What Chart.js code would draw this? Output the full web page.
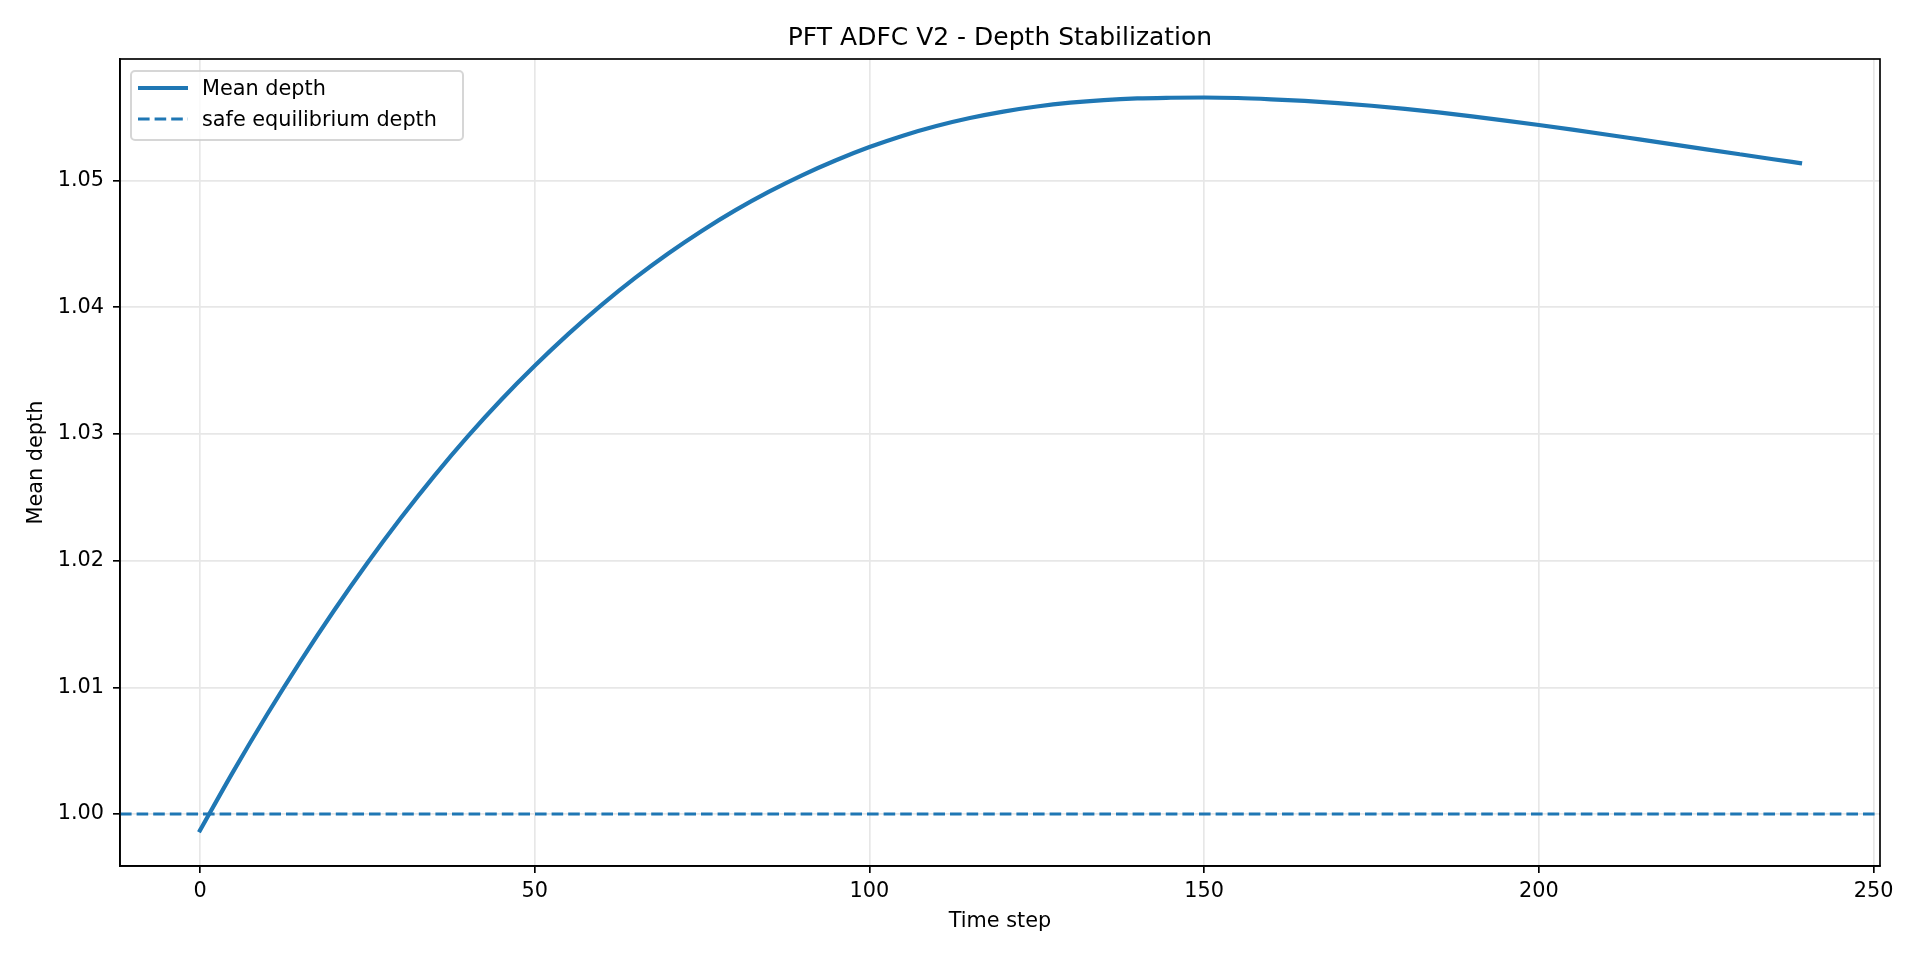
<!DOCTYPE html>
<html>
<head>
<meta charset="utf-8">
<title>PFT ADFC V2 - Depth Stabilization</title>
<script src="https://cdn.jsdelivr.net/npm/chart.js@4.4.1/dist/chart.umd.min.js"></script>
<style>
  body { margin: 0; background: #ffffff; }
  canvas { display: block; }
</style>
</head>
<body>
<canvas id="depth-chart" width="1920" height="960"></canvas>
<script>
// values
var timeSteps = [0, 5, 10, 15, 20, 25, 30, 35, 40, 45, 50, 55, 60, 65, 70, 75, 80, 85, 90, 95,
                 100, 105, 110, 115, 120, 125, 130, 135, 140, 145, 150, 155, 160, 165, 170, 175,
                 180, 185, 190, 195, 200, 205, 210, 215, 220, 225, 230, 235, 239];
var meanDepth = [0.99871, 1.00339, 1.00784, 1.01206, 1.01605, 1.01982, 1.02337, 1.02670, 1.02981, 1.03270,
                 1.03538, 1.03788, 1.04019, 1.04232, 1.04427, 1.04605, 1.04767, 1.04913, 1.05044, 1.05161,
                 1.05265, 1.05355, 1.05431, 1.05494, 1.05545, 1.05585, 1.05615, 1.05636, 1.05649, 1.05654,
                 1.05656, 1.05652, 1.05642, 1.05629, 1.05612, 1.05591, 1.05566, 1.05538, 1.05507, 1.05474,
                 1.05439, 1.05402, 1.05364, 1.05325, 1.05286, 1.05247, 1.05208, 1.05169, 1.05138];
var safeDepth = 1.0;

var xTicks = [0, 50, 100, 150, 200, 250];
var yTicks = [1.00, 1.01, 1.02, 1.03, 1.04, 1.05];
var xLimits = [-11.95, 250.95];
var yLimits = [0.9959, 1.0596];

var titleText = 'PFT ADFC V2 - Depth Stabilization';
var xTitle = 'Time step';
var yTitle = 'Mean depth';
var seriesNames = ['Mean depth', 'safe equilibrium depth'];

var blue = '#1f77b4';
var fontFamily = '"DejaVu Sans", Verdana, sans-serif';

var frameAndLegend = {
  id: 'frameAndLegend',
  afterDraw: function(chart) {
    var ctx = chart.ctx;
    var a = chart.chartArea;
    ctx.save();

    // full box round the axes
    ctx.strokeStyle = '#000000';
    ctx.lineWidth = 1.67;
    ctx.strokeRect(a.left, a.top, a.right - a.left, a.bottom - a.top);

    // title
    ctx.fillStyle = '#000000';
    ctx.font = '25px ' + fontFamily;
    ctx.textAlign = 'center';
    ctx.textBaseline = 'middle';
    ctx.fillText(titleText, (a.left + a.right) / 2, 38);

    // legend box, upper left
    var lx = a.left + 11, ly = a.top + 12, lw = 332, lh = 69;
    ctx.beginPath();
    ctx.roundRect(lx, ly, lw, lh, 4);
    ctx.fillStyle = 'rgba(255,255,255,0.8)';
    ctx.fill();
    ctx.strokeStyle = 'rgba(204,204,204,0.8)';
    ctx.lineWidth = 2;
    ctx.stroke();

    var hx0 = lx + 7, hx1 = lx + 57;
    var row1 = ly + 17, row2 = ly + 48;

    ctx.strokeStyle = blue;
    ctx.lineWidth = 4.2;
    ctx.setLineDash([]);
    ctx.beginPath();
    ctx.moveTo(hx0, row1);
    ctx.lineTo(hx1, row1);
    ctx.stroke();

    ctx.lineWidth = 3.1;
    ctx.setLineDash([11.6, 5]);
    ctx.beginPath();
    ctx.moveTo(hx0, row2);
    ctx.lineTo(hx1, row2);
    ctx.stroke();
    ctx.setLineDash([]);

    ctx.fillStyle = '#000000';
    ctx.font = '20.8px ' + fontFamily;
    ctx.textAlign = 'left';
    ctx.textBaseline = 'middle';
    ctx.fillText(seriesNames[0], lx + 71, row1 + 2);
    ctx.fillText(seriesNames[1], lx + 71, row2 + 2);

    ctx.restore();
  }
};

var ctx = document.getElementById('depth-chart').getContext('2d');
var chartJS = new Chart(ctx, {
  type: 'line',
  data: {
    datasets: [
      {
        label: seriesNames[1],
        data: [{ x: xLimits[0], y: safeDepth }, { x: xLimits[1], y: safeDepth }],
        borderColor: blue,
        borderWidth: 3.1,
        borderDash: [11.6, 5],
        pointRadius: 0,
        fill: false,
        order: 0
      },
      {
        label: seriesNames[0],
        data: timeSteps.map(function(t, i) { return { x: t, y: meanDepth[i] }; }),
        borderColor: blue,
        borderWidth: 4.2,
        borderCapStyle: 'square',
        cubicInterpolationMode: 'monotone',
        pointRadius: 0,
        fill: false,
        order: 1
      }
    ]
  },
  options: {
    responsive: false,
    animation: false,
    devicePixelRatio: 1,
    layout: { padding: { top: 59, right: 40, left: 0, bottom: 0 } },
    plugins: {
      legend: { display: false },
      title: { display: false },
      tooltip: { enabled: false }
    },
    scales: {
      x: {
        type: 'linear',
        min: xLimits[0],
        max: xLimits[1],
        afterBuildTicks: function(scale) {
          scale.ticks = xTicks.map(function(v) { return { value: v }; });
        },
        afterFit: function(scale) { scale.height = 94; },
        grid: {
          color: '#e7e7e7',
          lineWidth: 1.67,
          tickColor: '#000000',
          tickWidth: 1.67,
          tickLength: 7
        },
        border: { color: '#000000', width: 1.67 },
        ticks: {
          color: '#000000',
          padding: 6,
          maxRotation: 0,
          autoSkip: false,
          font: { family: fontFamily, size: 20.8 },
          callback: function(v) { return String(v); }
        },
        title: {
          display: true,
          text: xTitle,
          color: '#000000',
          font: { family: fontFamily, size: 20.8, lineHeight: 1.2 },
          padding: { top: 0, bottom: 25.5 }
        }
      },
      y: {
        type: 'linear',
        min: yLimits[0],
        max: yLimits[1],
        afterBuildTicks: function(scale) {
          scale.ticks = yTicks.map(function(v) { return { value: v }; });
        },
        afterFit: function(scale) { scale.width = 120; },
        grid: {
          color: '#e7e7e7',
          lineWidth: 1.67,
          tickColor: '#000000',
          tickWidth: 1.67,
          tickLength: 7
        },
        border: { color: '#000000', width: 1.67 },
        ticks: {
          color: '#000000',
          padding: 9,
          autoSkip: false,
          font: { family: fontFamily, size: 20.8 },
          callback: function(v) { return Number(v).toFixed(2); }
        },
        title: {
          display: true,
          text: yTitle,
          color: '#000000',
          font: { family: fontFamily, size: 20.8, lineHeight: 1.2 },
          padding: { top: 24, bottom: 0 }
        }
      }
    }
  },
  plugins: [frameAndLegend]
});
</script>
</body>
</html>
